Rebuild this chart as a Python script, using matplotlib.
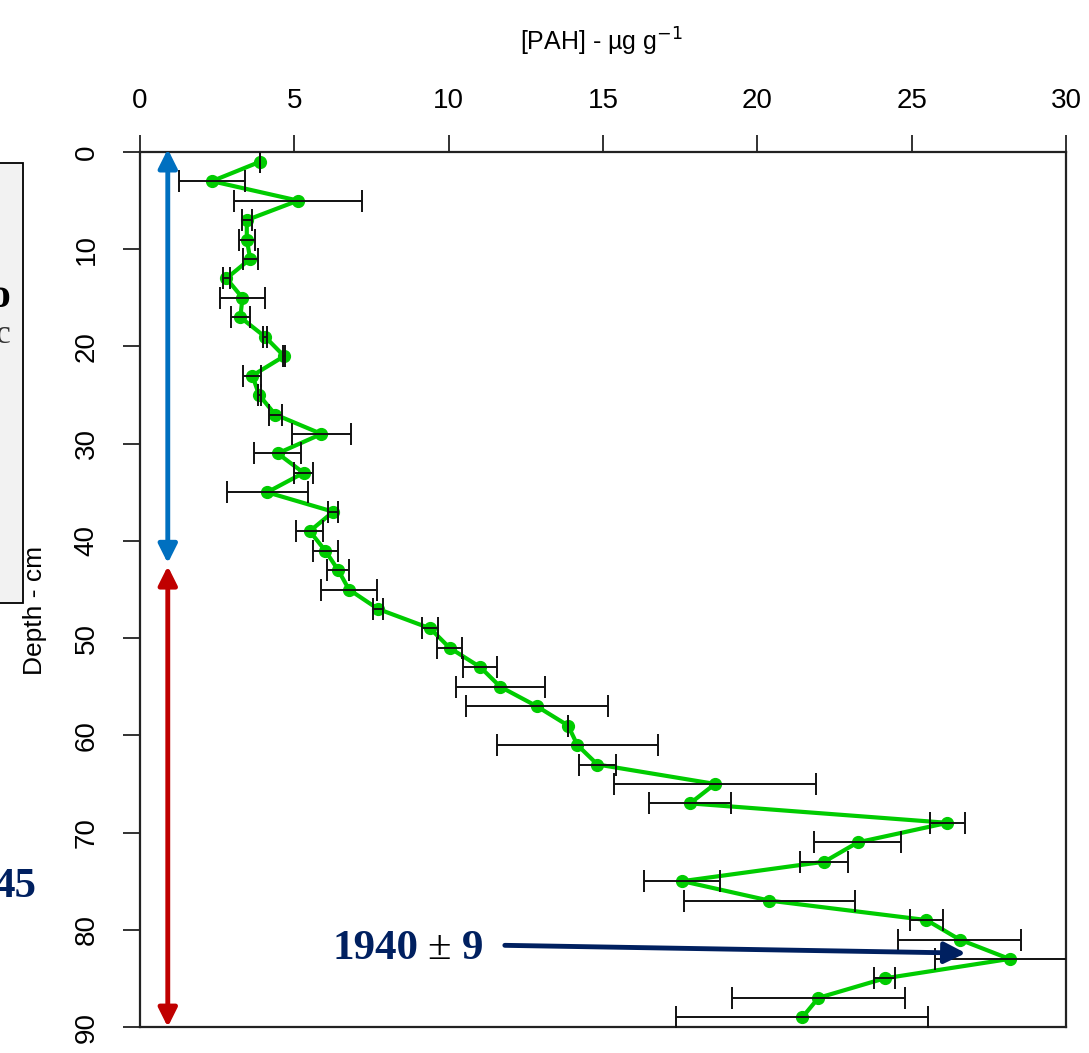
import matplotlib
matplotlib.use("Agg")
import matplotlib.pyplot as plt
from matplotlib.patches import Rectangle
import numpy as np

# Profundidade (cm) e concentração de HPA (média e desvio padrão)
depth = np.arange(1, 90, 2)
pah_mean = [3.89, 2.33, 5.12, 3.46, 3.46, 3.57, 2.80, 3.32, 3.25, 4.05,
            4.67, 3.64, 3.86, 4.38, 5.88, 4.46, 5.30, 4.12, 6.26, 5.50,
            6.00, 6.42, 6.77, 7.71, 9.40, 10.03, 11.03, 11.67, 12.85, 13.87,
            14.17, 14.82, 18.63, 17.82, 26.16, 23.26, 22.17, 17.57, 20.39, 25.48,
            26.55, 28.17, 24.12, 21.98, 21.46]
pah_sd = [0.0, 1.07, 2.07, 0.17, 0.26, 0.24, 0.10, 0.74, 0.30, 0.08,
          0.03, 0.29, 0.05, 0.21, 0.97, 0.77, 0.30, 1.31, 0.16, 0.43,
          0.40, 0.35, 0.92, 0.16, 0.25, 0.40, 0.55, 1.44, 2.30, 0.0,
          2.60, 0.60, 3.27, 1.32, 0.56, 1.41, 0.78, 1.23, 2.76, 0.53,
          1.98, 2.40, 0.34, 2.80, 4.08]

x_ticks = [0, 5, 10, 15, 20, 25, 30]
y_ticks = [0, 10, 20, 30, 40, 50, 60, 70, 80, 90]

W, H = 1089, 1053
fig = plt.figure(figsize=(W / 100, H / 100), dpi=100)
ax = fig.add_axes([140 / W, 1 - 1027 / H, 926 / W, 875 / H])

ax.plot(pah_mean, depth, color="#00cc00", lw=3.0, marker="o", ms=8.5,
        mec="#00cc00", zorder=2)
ax.errorbar(pah_mean, depth, xerr=pah_sd, fmt="none", ecolor="#111111",
            elinewidth=1.4, capsize=8, capthick=1.4, zorder=3)

ax.set_xlim(0, 30)
ax.set_ylim(90, 0)
ax.xaxis.tick_top()
ax.set_xticks(x_ticks)
ax.set_yticks(y_ticks)
ax.tick_params(axis="both", direction="out", length=12, width=1.3, color="#222222")
ax.tick_params(axis="x", pad=15)
ax.tick_params(axis="y", pad=17)
for lab in ax.get_xticklabels():
    lab.set_family(["Liberation Sans Narrow", "Liberation Sans"])
    lab.set_fontsize(20)
for lab in ax.get_yticklabels():
    lab.set_family("Liberation Sans")
    lab.set_fontsize(20)
    lab.set_rotation(90)
    lab.set_va("center")
for sp in ax.spines.values():
    sp.set_linewidth(1.6)
    sp.set_color("#222222")

fig.text(602 / W, 1 - 42 / H, "[PAH] - µg g$^{-1}$", ha="center", va="center",
         fontsize=18, family=["Liberation Sans Narrow", "Liberation Sans"])
fig.text(35 / W, 1 - 610 / H, "Depth - cm", rotation=90, ha="center",
         va="center", fontsize=19, family="Liberation Sans")

# caixa cinza parcialmente visível à esquerda
fig.patches.append(Rectangle((-10 / W, 1 - 603 / H), 33 / W, 440 / H,
                             transform=fig.transFigure, facecolor="#f2f2f2",
                             edgecolor="black", lw=1.3, zorder=0))
fig.text(0, 1 - 297 / H, "o", ha="center", va="center", fontsize=30,
         fontweight="bold", family="Liberation Serif")
fig.text(-4 / W, 1 - 335 / H, "c", ha="left", va="center", fontsize=24,
         color="#333333", family="Liberation Serif")

navy = "#002060"
fig.text(36 / W, 1 - 887 / H, "45", ha="right", va="center", fontsize=31,
         fontweight="bold", color=navy, family="Liberation Serif")

# setas de intervalo (azul e vermelha)
ax.annotate("", xy=(0.9, -0.3), xytext=(0.9, 42.3),
            arrowprops=dict(arrowstyle="<|-|>", color="#0070c0", lw=3.5,
                            mutation_scale=28, shrinkA=0, shrinkB=0),
            annotation_clip=False)
ax.annotate("", xy=(0.9, 42.6), xytext=(0.9, 90.0),
            arrowprops=dict(arrowstyle="<|-|>", color="#c00000", lw=3.5,
                            mutation_scale=28, shrinkA=0, shrinkB=0),
            annotation_clip=False)

# datação
ax.annotate("", xy=(26.75, 82.4), xytext=(11.82, 81.6),
            arrowprops=dict(arrowstyle="-|>", color=navy, lw=3.5,
                            mutation_scale=32, shrinkA=0, shrinkB=0))
ax.text(6.25, 82.0, "1940", ha="left", va="center", fontsize=31,
        fontweight="bold", color=navy, family="Liberation Serif")
ax.text(9.69, 82.0, "±", ha="center", va="center", fontsize=31,
        color="black", family="Liberation Serif")
ax.text(10.43, 82.0, "9", ha="left", va="center", fontsize=31,
        fontweight="bold", color=navy, family="Liberation Serif")

fig.savefig("out.png", dpi=100)
